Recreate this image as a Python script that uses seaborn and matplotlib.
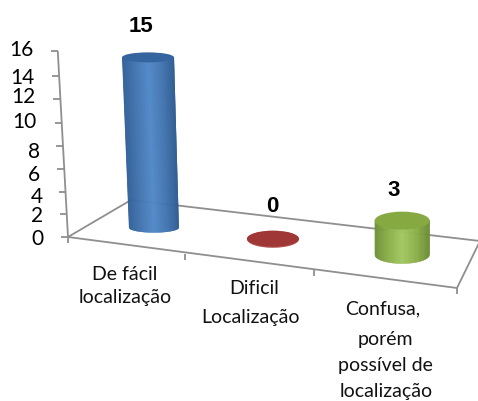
"""Cylinder chart in a perspective floor, redrawn with seaborn + matplotlib."""
import matplotlib

matplotlib.use("Agg")
import matplotlib.pyplot as plt
import numpy as np
import seaborn as sns
from matplotlib.colors import LinearSegmentedColormap
from matplotlib.patches import Ellipse

W, H = 478, 401

categories = ["De fácil localização", "Dificil Localização", "Confusa, porém possível de localização"]
values = [15, 0, 3]
y_ticks = [0, 2, 4, 6, 8, 10, 12, 14, 16]

# ---- layout (pixels) --------------------------------------------------------- #
FLOOR = [(68, 237), (457, 288), (480, 241), (131, 200)]  # front-l, front-r, back-r, back-l
PX_PER_UNIT = 11.35
WALL_TICK_Y = [237, 214, 192, 169, 146, 123, 99, 76, 51]
TICK_LABEL_POS = [(44, 239), (43, 216), (43, 197), (40, 175), (40, 152), (37, 122), (36, 97), (35, 78), (34, 50)]
FRONT_TICKS = [(68, 237), (185, 254), (314, 270), (457, 288)]
CAT_U = [0.170, 0.493, 0.833]
CAT_V = [0.42, 0.5, 0.5]
RX = [25, 26, 27.5]
RY = [5, 8.5, 9]
VALUE_LABEL_POS = [(141, 26), (272, 206), (394, 190)]
CAT_LINES = [
    [("De fácil", 125, 274), ("localização", 125, 297)],
    [("Dificil", 254, 288), ("Localização", 251, 317)],
    [("Confusa,", 383, 309), ("porém", 385, 340), ("possível de", 385, 366), ("localização", 386, 392)],
]
AXIS_COLOR = "#8f8f8f"
BODY_COLORS = [
    ["#2f5f98", "#4274b0", "#4f88c8", "#4274b0", "#2b5a90"],
    ["#8a2f2d", "#a23b39", "#a23b39", "#a23b39", "#8a2f2d"],
    ["#6f9038", "#8cb04a", "#a3c862", "#8cb04a", "#6a8a34"],
]
TOP_COLORS = ["#35659f", "#9e3735", "#86a942"]


def homography(corners):
    """Map the unit square (u along the categories, v into depth) onto the floor."""
    src = [(0, 0), (1, 0), (1, 1), (0, 1)]
    rows, rhs = [], []
    for (u, v), (x, y) in zip(src, corners):
        rows.append([u, v, 1, 0, 0, 0, -u * x, -v * x])
        rows.append([0, 0, 0, u, v, 1, -u * y, -v * y])
        rhs += [x, y]
    return np.append(np.linalg.solve(np.array(rows, float), np.array(rhs, float)), 1).reshape(3, 3)


M = homography(FLOOR)


def floor_point(u, v):
    x, y, w = M @ np.array([u, v, 1.0])
    return x / w, y / w


def draw_cylinder(ax, cx, cy, height, rx, ry, body, top_color):
    """Body as overlapping vertical strips (keeps outer edges smooth), then the top ellipse."""
    if height == 0:
        ax.add_patch(Ellipse((cx, cy + 0.6), 2 * rx, 2 * ry, fc="#b85755", ec="none", zorder=3))
        ax.add_patch(Ellipse((cx, cy), 2 * rx, 2 * ry - 1, fc=top_color, ec="none", zorder=4))
        return
    lean = (402 - cx) * 0.00014 * height
    tx, ty = cx - lean, cy - height
    top_rx = rx + (1 if height > 100 else 0)
    cmap = LinearSegmentedColormap.from_list("cyl", body)
    t = np.linspace(-1, 1, 121)
    for j in range(len(t) - 1):
        seg = t[j : min(j + 3, len(t))]
        xs = np.r_[cx + rx * seg, tx + top_rx * seg[::-1]]
        ys = np.r_[cy + ry * np.sqrt(1 - seg**2), np.full_like(seg, ty)]
        ax.fill(xs, ys, color=cmap((t[j] + 1) / 2), lw=0, zorder=3)
    ax.add_patch(Ellipse((tx, ty), 2 * top_rx, 2 * ry, fc=top_color, ec="none", zorder=4))


sns.set_theme(style="white")
plt.rcParams["font.family"] = ["Lato", "DejaVu Sans"]

fig = plt.figure(figsize=(W / 100, H / 100), dpi=100)

# bar heights come from seaborn's own value axis; the flat bars stay hidden
data_ax = fig.add_axes([0, 0, 0.1, 0.1])
sns.barplot(x=categories, y=values, hue=categories, palette=TOP_COLORS, legend=False, ax=data_ax)
data_ax.set_ylim(0, max(y_ticks))
heights = [c[0].get_height() for c in data_ax.containers]
data_ax.set_visible(False)

ax = fig.add_axes([0, 0, 1, 1])
ax.set_xlim(0, W)
ax.set_ylim(H, 0)
ax.axis("off")

# floor and wall lines
line_kw = dict(color=AXIS_COLOR, lw=1.3, solid_capstyle="butt", zorder=1)
outline = FLOOR + [FLOOR[0]]
ax.plot([p[0] for p in outline], [p[1] for p in outline], **line_kw)
wall_x = [68 - (237 - y) * 0.055 for y in WALL_TICK_Y]
ax.plot(wall_x, WALL_TICK_Y, **line_kw)
for x, y in zip(wall_x, WALL_TICK_Y):
    ax.plot([x - 7, x], [y, y], **line_kw)
for x, y in FRONT_TICKS:
    ax.plot([x, x], [y, y + 6], **line_kw)

# cylinders, from the heights seaborn drew
for i, h in enumerate(heights):
    cx, cy = floor_point(CAT_U[i], CAT_V[i])
    draw_cylinder(ax, cx, cy, h * PX_PER_UNIT, RX[i], RY[i], BODY_COLORS[i], TOP_COLORS[i])

for tick, (x, y) in zip(y_ticks, TICK_LABEL_POS):
    ax.text(x, y, str(tick), ha="right", va="center", fontsize=15, color="black")

for v, (x, y) in zip(values, VALUE_LABEL_POS):
    ax.text(x, y, str(v), ha="center", va="center", fontsize=16, fontweight="bold",
            family=["Liberation Sans", "DejaVu Sans"], color="black")

for lines in CAT_LINES:
    for text, x, y in lines:
        ax.text(x, y, text, ha="center", va="center", fontsize=14, color="#111111")

fig.savefig("out.png", dpi=100)
plt.close(fig)
